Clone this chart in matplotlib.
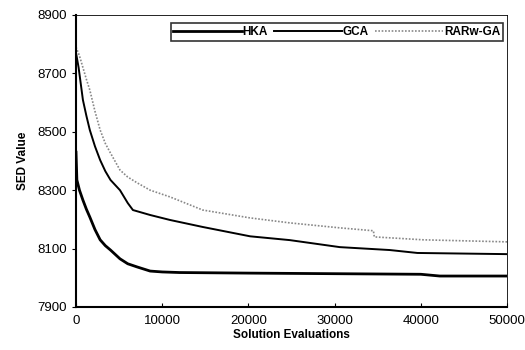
import numpy as np
import matplotlib
matplotlib.use("Agg")
import matplotlib.pyplot as plt

# values
evals_hka = [0, 100, 400, 800, 1200, 1600, 2200, 2800, 3400, 4000, 5100, 6000, 7100, 8600,
             10000, 12000, 20000, 30000, 40000, 42200, 50000]
sed_hka = [8430, 8335, 8300, 8266, 8235, 8208, 8165, 8130, 8110, 8095, 8065, 8048, 8037, 8023,
           8020, 8018, 8016, 8014, 8012, 8006, 8006]

evals_gca = [0, 300, 800, 1200, 1600, 2200, 2800, 3400, 4000, 5100, 6000, 6600, 8600, 10900,
             14700, 20200, 24800, 30600, 36400, 39600, 50000]
sed_gca = [8770, 8720, 8609, 8555, 8506, 8450, 8403, 8365, 8335, 8300, 8256, 8232, 8215, 8198,
           8174, 8142, 8129, 8105, 8095, 8085, 8081]

evals_rar = [0, 400, 800, 1200, 1600, 2200, 2800, 3400, 4000, 5100, 6000, 7100, 8600, 10900,
             14700, 20200, 24800, 30600, 34500, 34600, 40300, 50000]
sed_rar = [8790, 8760, 8720, 8680, 8643, 8570, 8506, 8460, 8427, 8369, 8345, 8325, 8300, 8277,
           8232, 8205, 8188, 8171, 8161, 8140, 8130, 8123]

xticks = [0, 10000, 20000, 30000, 40000, 50000]
yticks = [7900, 8100, 8300, 8500, 8700, 8900]

plt.rcParams['font.family'] = ['Liberation Sans', 'DejaVu Sans']

fig = plt.figure(figsize=(5.25, 3.5), dpi=100)
ax = fig.add_axes([0.1448, 0.1229, 0.821, 0.8343])

ax.plot(evals_hka, sed_hka, color="black", lw=2.0, label="HKA")
ax.plot(evals_gca, sed_gca, color="black", lw=1.4, label="GCA")
ax.plot(evals_rar, sed_rar, color="#888888", lw=1.2, ls=(0, (1, 1)), label="RARw-GA")

ax.set_xlim(0, 50000)
ax.set_ylim(7900, 8900)
ax.set_xticks(xticks)
ax.set_yticks(yticks)
ax.tick_params(axis='x', direction='in', length=3, labelsize=9.5, pad=6)
ax.tick_params(axis='y', direction='out', length=3, labelsize=9.5)
for s in ["top", "right"]:
    ax.spines[s].set_linewidth(0.6)
for s in ["left", "bottom"]:
    ax.spines[s].set_linewidth(1.5)

ax.set_xlabel("Solution Evaluations", fontsize=8.5, fontweight="bold", labelpad=1)
ax.set_ylabel("SED Value", fontsize=8.5, fontweight="bold", labelpad=6)

leg = ax.legend(loc="upper right", bbox_to_anchor=(0.991, 0.973), ncol=3,
                fontsize=8.5, frameon=True, fancybox=False, edgecolor="black",
                handlelength=5.8, handletextpad=0.05, columnspacing=0.5,
                borderpad=0.25, borderaxespad=0)
leg.get_frame().set_linewidth(1.2)
for t in leg.get_texts():
    t.set_fontweight("bold")

fig.savefig("out.png", dpi=100)
